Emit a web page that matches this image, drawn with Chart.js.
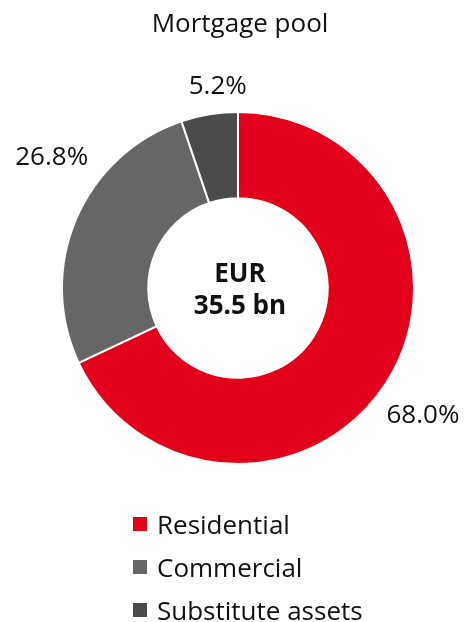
<!DOCTYPE html>
<html>
<head>
<meta charset="utf-8">
<script src="https://cdn.jsdelivr.net/npm/chart.js@4/dist/chart.umd.min.js"></script>
<style>
  html, body { margin: 0; padding: 0; background: #ffffff; }
  #wrap { position: relative; width: 466px; height: 622px; }
</style>
</head>
<body>
<div id="wrap"><canvas id="c" width="466" height="622"></canvas></div>
<script>
const titleText = "Mortgage pool";
const categories = ["Residential", "Commercial", "Substitute assets"];
const shares = [68.0, 26.8, 5.2];
const valueLabels = ["68.0%", "26.8%", "5.2%"];
const centerLines = ["EUR", "35.5 bn"];
const colors = ["#e2001a", "#666666", "#4b4b4b"];

const FONT = '"Open Sans", "DejaVu Sans", sans-serif';
// small nudges of the outside value labels (style only)
const labelNudge = [[-6, 5], [23, -43], [13, -1]];

const overlay = {
  id: 'overlay',
  afterDraw(chart) {
    const ctx = chart.ctx;
    const meta = chart.getDatasetMeta(0);
    const arc0 = meta.data[0];
    const cx = arc0.x, cy = arc0.y, R = arc0.outerRadius;
    ctx.save();
    ctx.fillStyle = '#111111';
    // title
    ctx.font = '26px ' + FONT;
    ctx.textAlign = 'center';
    ctx.textBaseline = 'alphabetic';
    ctx.fillText(titleText, cx + 2, 32);
    // value labels outside
    const capHalf = 9.3;
    meta.data.forEach((arc, i) => {
      const mid = (arc.startAngle + arc.endAngle) / 2;
      const dx = Math.cos(mid), dy = Math.sin(mid);
      const w = ctx.measureText(valueLabels[i]).width;
      const he = Math.abs(dx) * w / 2 + Math.abs(dy) * 10;
      const d = R + 14 + he;
      const x = cx + d * dx + labelNudge[i][0];
      const y = cy + d * dy + labelNudge[i][1];
      ctx.fillText(valueLabels[i], x, y + capHalf);
    });
    // center text
    ctx.font = 'bold 26px ' + FONT;
    ctx.fillText(centerLines[0], cx + 2, cy - 6);
    ctx.fillText(centerLines[1], cx + 2, cy + 26);
    // legend
    ctx.font = '26px ' + FONT;
    ctx.textAlign = 'left';
    categories.forEach((name, i) => {
      const yc = 524 + i * 43;
      ctx.fillStyle = colors[i];
      ctx.fillRect(133, yc - 7, 14, 14);
      ctx.fillStyle = '#111111';
      ctx.fillText(name, 157, yc + 9.5);
    });
    ctx.restore();
  }
};

new Chart(document.getElementById('c'), {
  type: 'doughnut',
  data: {
    labels: categories,
    datasets: [{
      data: shares,
      backgroundColor: colors,
      borderColor: '#ffffff',
      borderWidth: 2,
      hoverOffset: 0
    }]
  },
  options: {
    responsive: false,
    animation: false,
    cutout: '51%',
    layout: { padding: { top: 111, bottom: 157, left: 61, right: 51 } },
    plugins: {
      legend: { display: false },
      tooltip: { enabled: false },
      title: { display: false }
    }
  },
  plugins: [overlay]
});
</script>
</body>
</html>
